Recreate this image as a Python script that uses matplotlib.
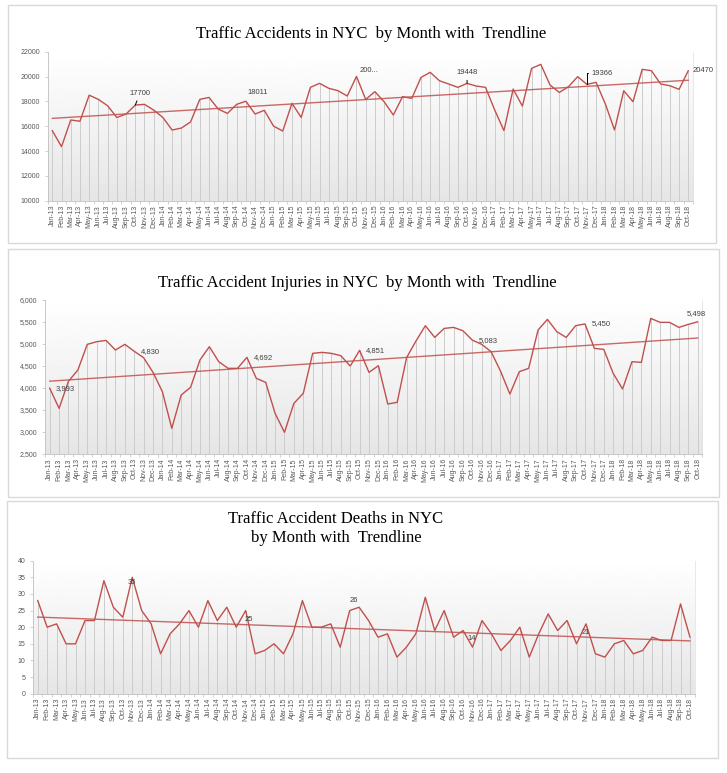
import numpy as np
import matplotlib.pyplot as plt
from matplotlib.patches import Rectangle
from matplotlib.ticker import FuncFormatter, MultipleLocator

# month categories Jan-13 .. Oct-18
month_names = ['Jan', 'Feb', 'Mar', 'Apr', 'May', 'Jun',
               'Jul', 'Aug', 'Sep', 'Oct', 'Nov', 'Dec']
years = ['13', '14', '15', '16', '17', '18']
months = [m + '-' + y for y in years for m in month_names][:70]

accidents = [15640, 14350, 16500, 16400, 18500, 18160, 17650, 16700, 16980, 17700,
             17760, 17300, 16700, 15690, 15850, 16340, 18160, 18320, 17380, 17030,
             17760, 18011, 16980, 17280, 16010, 15610, 17840, 16710, 19130, 19450,
             19050, 18860, 18430, 20010, 18160, 18780, 17970, 16900, 18380, 18240,
             19930, 20340, 19660, 19400, 19130, 19448, 19230, 19130, 17300, 15640,
             18990, 17620, 20660, 20980, 19320, 18720, 19180, 19990, 19366, 19530,
             17790, 15690, 18860, 17970, 20580, 20470, 19400, 19260, 18970, 20470]

injuries = [3993, 3535, 4150, 4405, 4987, 5047, 5077, 4858, 4987, 4830,
            4685, 4352, 3913, 3082, 3838, 4012, 4632, 4934, 4594, 4443,
            4443, 4692, 4216, 4125, 3422, 2991, 3649, 3875, 4783, 4805,
            4783, 4730, 4495, 4851, 4352, 4503, 3634, 3672, 4685, 5062,
            5410, 5145, 5349, 5372, 5296, 5083, 4987, 4821, 4382, 3860,
            4367, 4443, 5312, 5554, 5274, 5145, 5410, 5450, 4896, 4873,
            4329, 3974, 4594, 4579, 5576, 5486, 5486, 5372, 5440, 5498]

deaths = [28, 20, 21, 15, 15, 22, 22, 34, 26, 23,
          35, 25, 21, 12, 18, 21, 25, 20, 28, 22,
          26, 20, 25, 12, 13, 15, 12, 18, 28, 20,
          20, 21, 14, 25, 26, 22, 17, 18, 11, 14,
          18, 29, 19, 25, 17, 19, 14, 22, 18, 13,
          16, 20, 11, 18, 24, 19, 22, 15, 21, 12,
          11, 15, 16, 12, 13, 17, 16, 16, 27, 17]

# data labels: (month index, text)
acc_labels = [(9, '17700'), (21, '18011'), (33, '200...'), (45, '19448'), (58, '19366'), (69, '20470')]
inj_labels = [(0, '3,993'), (9, '4,830'), (21, '4,692'), (33, '4,851'), (45, '5,083'), (57, '5,450'), (69, '5,498')]
dth_labels = [(10, '35'), (22, '25'), (34, '26'), (46, '14'), (58, '21')]

RED = '#c0504d'
TICK = '#595959'
W, H = 727, 773


def fig_rect(fig, x0, y0, x1, y1):
    # pixel box (top-left origin) -> figure fraction
    return [x0 / W, 1 - y1 / H, (x1 - x0) / W, (y1 - y0) / H]


def panel(fig, box, ax_px, values, ylim, ystep, fmt, labels, label_style):
    b = fig_rect(fig, *box)
    fig.add_artist(Rectangle((b[0], b[1]), b[2], b[3], transform=fig.transFigure,
                             facecolor='white', edgecolor='#d9d9d9', lw=1.0, zorder=0))
    ax = fig.add_axes(fig_rect(fig, *ax_px))
    ax.set_zorder(1)
    ax.patch.set_alpha(0)
    x = np.arange(len(values))
    grad = np.linspace(1.0, 0.90, 256).reshape(-1, 1)
    ax.imshow(grad, cmap='gray', vmin=0, vmax=1, extent=[0, 1, 0, 1],
              transform=ax.transAxes, aspect='auto', zorder=0)
    ax.vlines(x, ylim[0], values, color='#cccccc', lw=0.7, zorder=1)
    ax.plot(x, values, color=RED, lw=1.0, zorder=3)
    k, c = np.polyfit(x, values, 1)
    ax.plot(x, k * x + c, color=RED, lw=1.0, alpha=0.85, zorder=2)
    ax.set_xlim(-0.5, len(values) - 0.5)
    ax.set_ylim(*ylim)
    ax.yaxis.set_major_locator(MultipleLocator(ystep))
    ax.yaxis.set_major_formatter(FuncFormatter(fmt))
    ax.set_xticks(x)
    ax.set_xticklabels(months, rotation=90, fontsize=5, color=TICK, family='Liberation Sans')
    ax.set_xticks(np.arange(-0.5, len(values)), minor=True)
    ax.tick_params(axis='x', which='major', length=0, pad=3)
    ax.tick_params(axis='x', which='minor', length=2.5, color='#bfbfbf', width=0.5)
    ax.tick_params(axis='y', length=2.5, color='#bfbfbf', width=0.5, labelsize=5,
                   labelcolor=TICK, pad=3)
    for t in ax.get_yticklabels():
        t.set_family('Liberation Sans')
    ax.spines['top'].set_visible(False)
    for s in ['left', 'bottom']:
        ax.spines[s].set_color('#bfbfbf')
        ax.spines[s].set_linewidth(0.6)
    ax.spines['right'].set_color('#e0e0e0')
    ax.spines['right'].set_linewidth(0.5)

    for (i, txt), st in zip(labels, label_style):
        dx, dy, ha, arrow = st
        kw = {}
        if arrow == 'line':
            kw['arrowprops'] = dict(arrowstyle='-', color='black', lw=0.7, shrinkA=1, shrinkB=0)
        elif arrow == 'bracket':
            kw['arrowprops'] = dict(arrowstyle='-', color='black', lw=0.7, shrinkA=1, shrinkB=0,
                                    connectionstyle='angle,angleA=0,angleB=90,rad=0')
        ax.annotate(txt, (i, values[i]), xytext=(dx, dy), textcoords='offset pixels',
                    ha=ha, va='center', fontsize=5.5, color='#404040',
                    family='Liberation Sans', zorder=5, **kw)
    return ax


fig = plt.figure(figsize=(W / 100, H / 100), dpi=100)

plain = lambda v, p: '%d' % v
comma = lambda v, p: '{:,.0f}'.format(v)

# panel 1: accidents
panel(fig, (8, 5, 716, 243), (47.7, 51.7, 692.9, 200.7), accidents, (10000, 22000), 2000, plain,
      acc_labels,
      [(4.7, 11.8, 'center', 'line'), (12, 8.6, 'center', None), (3.5, 5.8, 'left', None),
       (0, 10.7, 'center', 'line'), (15.5, 11.2, 'center', 'bracket'), (4.7, 0, 'left', None)])
fig.text(371 / W, 1 - 34 / H, 'Traffic Accidents in NYC  by Month with  Trendline',
         ha='center', va='center', fontsize=12, family='Liberation Serif')

# panel 2: injuries
panel(fig, (8, 249, 719, 497), (45, 299.7, 702.4, 454), injuries, (2500, 6000), 500, comma,
      inj_labels,
      [(6.3, 0, 'left', None), (6.5, 0, 'left', None), (7, 0, 'left', None), (6.4, 0, 'left', None),
       (6.7, 0, 'left', None), (7, 0, 'left', None), (-1.5, 8, 'center', None)])
fig.text(357 / W, 1 - 283 / H, 'Traffic Accident Injuries in NYC  by Month with  Trendline',
         ha='center', va='center', fontsize=12, family='Liberation Serif')

# panel 3: deaths
panel(fig, (7, 501, 718, 758), (33, 560.7, 694.7, 693.7), deaths, (0, 40), 5, plain,
      dth_labels,
      [(0, -5, 'center', None), (3, -9, 'center', None), (-5, 7, 'center', None),
       (-1, 9, 'center', None), (0, -9, 'center', None)])
fig.text(336 / W, 1 - 519 / H, 'Traffic Accident Deaths in NYC',
         ha='center', va='center', fontsize=12, family='Liberation Serif')
fig.text(336 / W, 1 - 538 / H, 'by Month with  Trendline',
         ha='center', va='center', fontsize=12, family='Liberation Serif')

fig.savefig('out.png', dpi=100)
